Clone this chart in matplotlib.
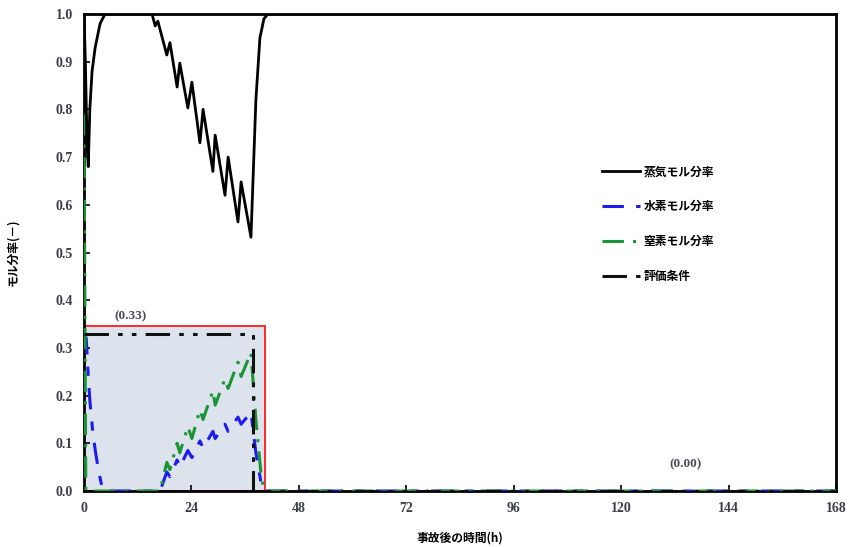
import matplotlib
matplotlib.use("Agg")
import matplotlib.pyplot as plt
from matplotlib.patches import Rectangle

# ---- data ----
steam_t = [0, 0.3, 0.7, 0.95, 1.3, 1.8, 2.5, 3.6, 4.7, 15.2, 15.9, 16.5, 18.5, 19.2, 20.8, 21.4,
           23.2, 24.1, 25.9, 26.6, 28.8, 29.3, 31.5, 32.2, 34.4, 35.1, 37.3, 38.4, 39.3, 40.2, 41.1, 168]
steam_v = [1.0, 0.90, 0.72, 0.68, 0.80, 0.88, 0.93, 0.98, 1.0, 1.0, 0.975, 0.985, 0.914, 0.94, 0.847, 0.897,
           0.803, 0.857, 0.73, 0.80, 0.67, 0.746, 0.62, 0.70, 0.564, 0.648, 0.532, 0.82, 0.95, 0.99, 1.0, 1.0]

h2_t = [0, 0.5, 0.9, 1.3, 2.0, 2.6, 3.3, 4.0, 4.5, 17.0, 18.5, 19.2, 20.8, 21.4, 23.2, 24.1, 25.9, 26.6,
        28.8, 29.3, 31.5, 32.2, 34.4, 35.1, 37.3, 38.4, 39.5, 40.2, 168]
h2_v = [0.33, 0.32, 0.25, 0.19, 0.12, 0.08, 0.04, 0.01, 0.0, 0.0, 0.04, 0.03, 0.065, 0.05, 0.085, 0.07, 0.105, 0.09,
        0.125, 0.11, 0.14, 0.125, 0.155, 0.14, 0.165, 0.08, 0.02, 0.0, 0.0]

n2_t = [0, 0.2, 0.4, 17.0, 18.5, 19.2, 20.8, 21.4, 23.2, 24.1, 25.9, 26.6, 28.8, 29.3, 31.5, 32.2,
        34.4, 35.1, 37.3, 38.4, 39.5, 40.2, 168]
n2_v = [0.79, 0.40, 0.0, 0.0, 0.06, 0.045, 0.10, 0.08, 0.135, 0.11, 0.17, 0.15, 0.21, 0.18, 0.235, 0.215,
        0.27, 0.24, 0.29, 0.15, 0.04, 0.0, 0.0]

eval_t = [0, 37.8, 37.8, 168]
eval_v = [0.33, 0.33, 0.0, 0.0]

labels = ["蒸気モル分率", "水素モル分率", "窒素モル分率", "評価条件"]
x_ticks = [0, 24, 48, 72, 96, 120, 144, 168]
y_ticks = [0.0, 0.1, 0.2, 0.3, 0.4, 0.5, 0.6, 0.7, 0.8, 0.9, 1.0]

box_w, box_h = 40.4, 0.345
ann_033 = (10.3, 0.367, "(0.33)")
ann_000 = (134.3, 0.055, "(0.00)")

jp = ["Noto Sans CJK JP", "DejaVu Sans"]

fig = plt.figure(figsize=(8.58, 5.47), dpi=100)
ax = fig.add_axes([84/858, 1-491/547, (836-84)/858, (491-14)/547])

ax.add_patch(Rectangle((0, 0), box_w, box_h, facecolor="#dce3ed", edgecolor="#ff1a1a", lw=1.3, zorder=1))

ax.plot(steam_t, steam_v, color="black", lw=2.0, label=labels[0], zorder=4)
ax.plot(h2_t, h2_v, color="#1c1cf0", lw=2.2, dashes=(7, 4, 3, 4), label=labels[1], zorder=3)
ax.plot(n2_t, n2_v, color="#1a9436", lw=2.2, dashes=(7, 3, 1, 3), label=labels[2], zorder=3)
ax.plot(eval_t, eval_v, color="#111111", lw=2.2, dashes=(8, 3, 1.5, 3, 1.5, 3), label=labels[3], zorder=3)

ax.set_xlim(0, 168)
ax.set_ylim(0, 1.0)
ax.set_xticks(x_ticks)
ax.set_yticks(y_ticks)
ax.set_yticklabels([f"{v:.1f}" for v in y_ticks])
ax.tick_params(direction="in", length=4, width=1.2, labelsize=10, pad=8)
for lab in ax.get_xticklabels() + ax.get_yticklabels():
    lab.set_family(["Liberation Serif"])
    lab.set_weight("bold")
    lab.set_color("#3a3f48")
for s in ax.spines.values():
    s.set_linewidth(2.0)

ax.text(ann_033[0], ann_033[1], ann_033[2], ha="center", va="center", fontsize=9.5,
        family=["Liberation Serif"], weight="bold", color="#4a4a55")
ax.text(ann_000[0], ann_000[1], ann_000[2], ha="center", va="center", fontsize=9.5,
        family=["Liberation Serif"], weight="bold", color="#4a4a55")

ax.set_xlabel("事故後の時間(h)", family=jp, fontsize=8.5, weight="bold", labelpad=12)
ax.set_ylabel("モル分率(－)", family=jp, fontsize=8.5, weight="bold", labelpad=26)

leg = ax.legend(loc="upper left", bbox_to_anchor=(0.675, 0.705), frameon=False,
                prop={"family": jp, "size": 8.5, "weight": "bold"}, labelspacing=1.85, handlelength=3.2,
                handletextpad=0.3)

fig.savefig("out.png", dpi=100)
